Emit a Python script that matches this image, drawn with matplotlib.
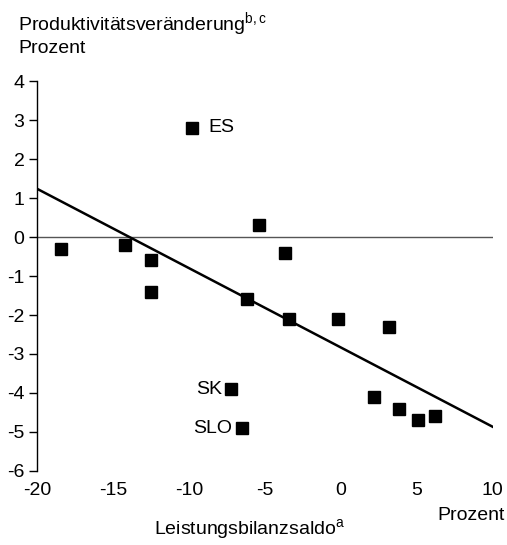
import matplotlib.pyplot as plt

plt.rcParams['font.family'] = ['Liberation Sans Narrow', 'Liberation Sans', 'DejaVu Sans']
plt.rcParams['mathtext.fontset'] = 'custom'
plt.rcParams['mathtext.rm'] = 'Liberation Sans'
plt.rcParams['axes.unicode_minus'] = False

# Leistungsbilanzsaldo (x) und Produktivitätsveränderung (y), in Prozent
saldo = [-18.4, -14.2, -12.5, -12.5, -9.8, -6.2, -5.4, -3.7, -3.4, -0.2,
         3.2, -7.2, -6.5, 2.2, 3.8, 5.1, 6.2]
produktivitaet = [-0.3, -0.2, -0.6, -1.4, 2.8, -1.6, 0.3, -0.4, -2.1, -2.1,
                  -2.3, -3.9, -4.9, -4.1, -4.4, -4.7, -4.6]

# beschriftete Länder
labels = {"ES": (-9.8, 2.8), "SK": (-7.2, -3.9), "SLO": (-6.5, -4.9)}

# Regressionsgerade
trend_x = [-20, 10]
trend_y = [1.24, -4.87]

fs = 14

fig = plt.figure(figsize=(5.07, 5.45), dpi=100)
ax = fig.add_axes([0.073, 0.136, 0.899, 0.715])

ax.axhline(0, color="#555555", lw=1, zorder=1)
ax.plot(trend_x, trend_y, color="black", lw=1.8, zorder=2)
ax.plot(saldo, produktivitaet, "s", color="black", markersize=8.5, zorder=3)

name = "ES"
ax.annotate(name, labels[name], xytext=(12, 0), textcoords="offset points",
            ha="left", va="center", fontsize=fs)
for name in ["SK", "SLO"]:
    ax.annotate(name, labels[name], xytext=(-7, 0), textcoords="offset points",
                ha="right", va="center", fontsize=fs)

ax.set_xlim(-20, 10)
ax.set_ylim(-6, 4)
ax.set_xticks([-20, -15, -10, -5, 0, 5, 10])
ax.set_yticks(range(-6, 5))

for s in ["top", "right", "bottom"]:
    ax.spines[s].set_visible(False)
ax.spines["left"].set_linewidth(1)
ax.tick_params(axis="y", length=6, width=1, labelsize=fs, pad=3)
ax.tick_params(axis="x", length=0, labelsize=fs, pad=8)

fig.text(0.036, 0.955, r"Produktivitätsveränderung$^{\mathrm{b,c}}$",
         fontsize=fs, va="center", ha="left")
fig.text(0.036, 0.911, "Prozent", fontsize=fs, va="center", ha="left")
fig.text(0.996, 0.055, "Prozent", fontsize=fs, va="center", ha="right")
fig.text(0.493, 0.028, r"Leistungsbilanzsaldo$^{\mathrm{a}}$",
         fontsize=fs, va="center", ha="center")

fig.savefig("out.png", dpi=100)
